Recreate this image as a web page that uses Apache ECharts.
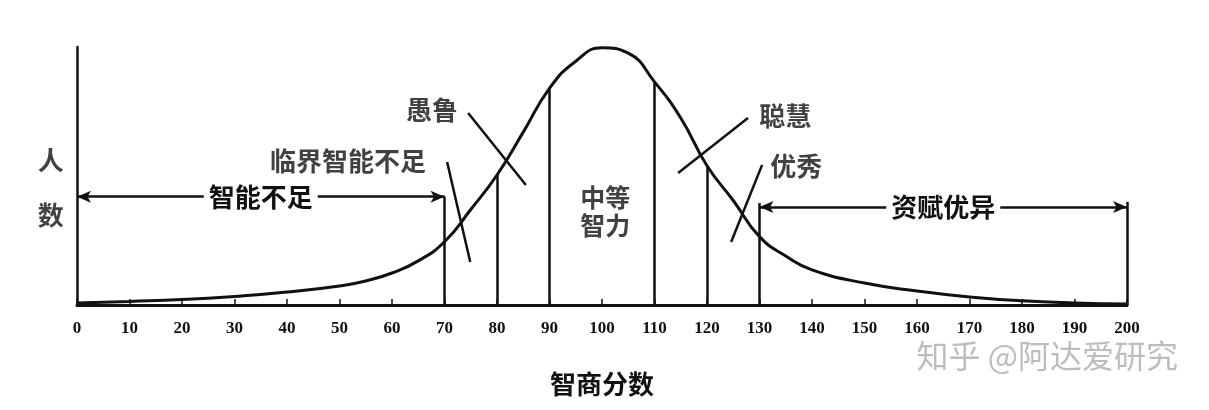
<!DOCTYPE html>
<html>
<head>
<meta charset="utf-8">
<script src="https://cdn.jsdelivr.net/npm/echarts@6/dist/echarts.min.js"></script>
<style>
html,body{margin:0;padding:0;background:#fff;}
#chart{width:1209px;height:410px;}
</style>
</head>
<body>
<div id="chart"></div>
<script>
// IQ score (x) and relative number of people (y, peak ≈ 100)
const iqScores = [0,10,20,30,40,50,55,60,65,70,75,80,85,90,95,100,105,110,115,120,125,130,135,140,150,160,170,180,190,200];
const peopleCount = [0.8,1.4,2.1,3.3,5.0,7.4,9.3,12.4,17.1,24.5,37,50.4,67,84,94.5,99.7,97.6,86.5,72.5,54,40.5,26.5,19,13.6,8.5,5.4,3.1,1.6,0.8,0.4];

// category boundary lines
const cutoffIQ = [70,80,90,110,120,130,200];
const cutoffTop = [42,50.4,84,86.5,54,39.5,40];

// range arrows
const arrowNames = ['智能不足','资赋优异'];
const arrowFrom = [0,130];
const arrowTo = [70,200];
const arrowLevel = [42,38];

// callout labels with pointer lines
const calloutNames = ['愚鲁','临界智能不足','聪慧','优秀'];
const calloutLabelAt = [[67.6,75.6],[51.6,55.8],[134.9,73.3],[137,53.9]];
const calloutLineStart = [[74.5,74.4],[70.5,55.4],[127.8,72.5],[130.5,54.3]];
const calloutLineEnd = [[85.5,46.5],[74.9,16.7],[114.5,51.2],[124.6,24.4]];

// central label
const centerName = '中等\n智力';
const centerAt = [100.6,36.3];

// y-axis title characters (stacked vertically left of the axis)
const yTitleChars = ['人','数'];
const yTitleAt = [[-5,56.2],[-5,34.9]];

const xAxisName = '智商分数';
const watermark = '知乎 @阿达爱研究';

const CJK = '"Noto Sans CJK SC", "Noto Sans", sans-serif';
const INK = '#111';

const curve = iqScores.map((x,i)=>[x, peopleCount[i]]);

const markLines = [];
cutoffIQ.forEach((x,i)=>{
  markLines.push([{coord:[x,0]},{coord:[x,cutoffTop[i]]}]);
});
calloutLineStart.forEach((s,i)=>{
  markLines.push([{coord:s},{coord:calloutLineEnd[i]}]);
});

const arrowLines = arrowNames.map((n,i)=>[
  {coord:[arrowFrom[i],arrowLevel[i]], name:n},
  {coord:[arrowTo[i],arrowLevel[i]]}
]);

const labelData = calloutNames.map((n,i)=>({name:n, value:calloutLabelAt[i]}));
labelData.push({name:centerName, value:centerAt, label:{fontSize:25, lineHeight:28}});
yTitleChars.forEach((c,i)=>labelData.push({name:c, value:yTitleAt[i]}));

const chart = echarts.init(document.getElementById('chart'), null, {renderer:'canvas'});
chart.setOption({
  animation:false,
  backgroundColor:'#fff',
  grid:{left:77, right:82, top:47, bottom:105, containLabel:false},
  xAxis:{
    type:'value', min:0, max:200, interval:10,
    name:xAxisName, nameLocation:'middle', nameGap:66,
    nameTextStyle:{fontFamily:CJK, fontSize:26, fontWeight:'bold', color:INK},
    axisLine:{show:true, onZero:false, lineStyle:{color:INK, width:3}},
    axisTick:{show:true, inside:true, length:6, lineStyle:{color:INK, width:1.5}},
    axisLabel:{margin:15, fontFamily:'"Liberation Serif", "DejaVu Serif", serif', fontWeight:'bold', fontSize:17, color:INK},
    splitLine:{show:false}
  },
  yAxis:{
    type:'value', min:0, max:100,
    axisLine:{show:true, lineStyle:{color:INK, width:2.5}},
    axisTick:{show:false}, axisLabel:{show:false}, splitLine:{show:false}
  },
  series:[
    {
      type:'line', name:'人数', data:curve, smooth:0.5, showSymbol:false, symbol:'none',
      lineStyle:{color:INK, width:3}, silent:true, z:3,
      markLine:{
        silent:true, symbol:['none','none'], animation:false,
        label:{show:false},
        lineStyle:{color:INK, width:2.5, type:'solid'},
        emphasis:{disabled:true},
        data:markLines
      }
    },
    {
      type:'line', name:'范围', data:[], silent:true,
      markLine:{
        silent:true, symbol:['arrow','arrow'], symbolSize:[9,14], animation:false,
        lineStyle:{color:INK, width:2.5, type:'solid'},
        emphasis:{disabled:true},
        label:{show:true, position:'insideMiddle', formatter:'{b}', fontFamily:CJK, fontSize:26, fontWeight:'bold', color:INK, backgroundColor:'#fff', padding:[0,5]},
        data:arrowLines
      }
    },
    {
      type:'scatter', name:'标注', data:labelData, symbolSize:0, silent:true, clip:false,
      label:{show:true, position:'inside', formatter:'{b}', fontFamily:CJK, fontSize:26, fontWeight:'bold', color:INK}
    }
  ],
  graphic:[
    {type:'text', right:31, top:340, silent:true,
     style:{text:watermark, fontSize:32, fontFamily:CJK, fill:'#bdbdbd'}}
  ]
});
</script>
</body>
</html>
